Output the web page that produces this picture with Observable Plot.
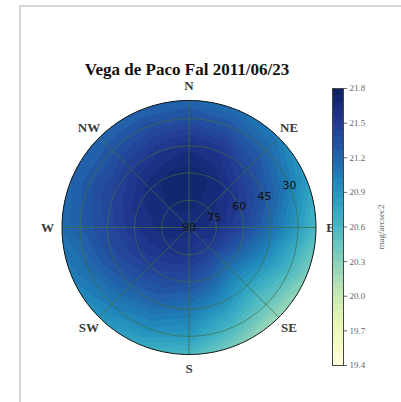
<!DOCTYPE html>
<html>
<head>
<meta charset="utf-8">
<script src="https://cdn.jsdelivr.net/npm/d3@7"></script>
<script src="https://cdn.jsdelivr.net/npm/@observablehq/plot@0.6"></script>
<style>
  html, body { margin: 0; padding: 0; background: #fff; }
  #chart { position: relative; width: 401px; height: 402px; overflow: hidden; }
  #edge { position: absolute; left: 19px; top: 5px; right: -10px; bottom: -10px;
          border-top: 2px solid #d6d6d6; border-left: 2px solid #d6d6d6; }
  #chart svg { position: absolute; left: 0; top: 0; background: transparent; }
</style>
</head>
<body>
<div id="chart"><div id="edge"></div></div>
<script>
// Sky brightness survey, Vega de Paco Fal, 2011/06/23 (mag/arcsec²)
const title = "Vega de Paco Fal 2011/06/23";

// Azimuths of the readings, clockwise from north
const azimuths = [0, 22.5, 45, 67.5, 90, 112.5, 135, 157.5,
                  180, 202.5, 225, 247.5, 270, 292.5, 315, 337.5];

// Compass labels and their azimuths
const directions = ["N", "NE", "E", "SE", "S", "SW", "W", "NW"];
const directionAz = [0, 45, 90, 135, 180, 225, 270, 315];

// Readings at each altitude, one value per azimuth above
const mag20 = [21.20, 21.15, 21.05, 20.85, 20.60, 20.35, 20.20, 20.35,
               20.60, 20.75, 20.90, 21.05, 21.15, 21.20, 21.20, 21.20];
const mag30 = [21.35, 21.30, 21.20, 21.05, 20.85, 20.60, 20.45, 20.60,
               20.85, 20.95, 21.05, 21.15, 21.25, 21.30, 21.30, 21.35];
const mag45 = [21.60, 21.55, 21.40, 21.30, 21.15, 20.95, 20.80, 20.95,
               21.10, 21.20, 21.25, 21.35, 21.40, 21.45, 21.50, 21.55];
const mag60 = [21.72, 21.68, 21.60, 21.50, 21.40, 21.25, 21.15, 21.25,
               21.35, 21.40, 21.45, 21.50, 21.55, 21.60, 21.66, 21.70];
const mag75 = [21.70, 21.68, 21.65, 21.62, 21.60, 21.55, 21.50, 21.50,
               21.55, 21.58, 21.60, 21.62, 21.65, 21.66, 21.68, 21.70];
const zenithMag = 21.65;

// Grid rings, ring labels, horizon limit and colour bar ticks
const ringAlts = [30, 45, 60, 75];
const ringLabels = [90, 75, 60, 45, 30];
const horizonAlt = 20;
const colorTicks = [19.4, 19.7, 20.0, 20.3, 20.6, 20.9, 21.2, 21.5, 21.8];
const magDomain = [19.4, 21.8];

// ---- derived tables -------------------------------------------------------
const byAltitude = [[20, mag20], [30, mag30], [45, mag45], [60, mag60], [75, mag75]];
const samples = byAltitude.flatMap(([alt, mags]) =>
  azimuths.map((az, i) => ({az, alt, mag: mags[i]})));
samples.push({az: 0, alt: 90, mag: zenithMag});

const rad = Math.PI / 180;
const zmax = 90 - horizonAlt;               // zenith distance of the rim
const px = d => (90 - d.alt) * Math.sin(d.az * rad);
const py = d => (90 - d.alt) * Math.cos(d.az * rad);

const step = 0.06;
const levels = d3.range(0, Math.round((magDomain[1] - magDomain[0]) / step) + 1)
  .map(i => +(magDomain[0] + i * step).toFixed(2));

const ringPts = alt => d3.range(0, 361, 2).map(az => ({alt, az}));
const gridPts = ringAlts.flatMap(ringPts);
const rimPts = ringPts(horizonAlt);

const labelAlt = horizonAlt - 8;            // compass labels sit just outside the rim
const ringLabelAz = 67.5;
const gridColor = "#3f6e47";

const color = {type: "linear", scheme: "YlGnBu", domain: magDomain};

// ---- polar sky map -------------------------------------------------------
const map = Plot.plot({
  width: 401, height: 402,
  marginLeft: 61.5, marginRight: 85.5, marginTop: 100, marginBottom: 48,
  x: {domain: [-zmax, zmax], axis: null},
  y: {domain: [-zmax, zmax], axis: null},
  color,
  style: {background: "transparent"},
  marks: [
    Plot.line(rimPts, {x: px, y: py, fill: "#2456a8", stroke: "none"}),
    Plot.contour(samples, {
      x: px, y: py, fill: "mag",
      x1: -zmax, x2: zmax, y1: -zmax, y2: zmax,
      interpolate: "barycentric", thresholds: levels
    }),
    Plot.line(gridPts, {x: px, y: py, z: "alt", stroke: gridColor, strokeWidth: 0.9, strokeOpacity: 0.8}),
    Plot.link(directionAz, {
      x1: 0, y1: 0,
      x2: az => zmax * Math.sin(az * rad), y2: az => zmax * Math.cos(az * rad),
      stroke: gridColor, strokeWidth: 0.9, strokeOpacity: 0.85
    }),
    Plot.line(rimPts, {x: px, y: py, stroke: "#1a1a1a", strokeWidth: 1}),
    Plot.text(ringLabels, {
      x: a => (90 - a) * Math.sin(ringLabelAz * rad),
      y: a => (90 - a) * Math.cos(ringLabelAz * rad),
      text: a => String(a),
      fontFamily: "DejaVu Sans", fontSize: 11, fill: "#111"
    }),
    Plot.text(directions, {
      x: (d, i) => (90 - labelAlt) * Math.sin(directionAz[i] * rad),
      y: (d, i) => (90 - labelAlt) * Math.cos(directionAz[i] * rad),
      text: d => d,
      fontFamily: "Liberation Serif", fontSize: 13, fontWeight: "bold", fill: "#3a3a3a"
    }),
    Plot.text([title], {
      frameAnchor: "top", lineAnchor: "middle", dy: -31, dx: -2, text: d => d,
      fontFamily: "Liberation Serif", fontSize: 17, fontWeight: "bold", fill: "#111"
    })
  ]
});

// keep the filled field inside the horizon circle
{
  const sx = map.scale("x"), sy = map.scale("y");
  const cx = sx.apply(0), cy = sy.apply(0), r = sx.apply(zmax) - cx;
  const svg = d3.select(map);
  svg.insert("defs", ":first-child").append("clipPath").attr("id", "sky-clip")
    .append("circle").attr("cx", cx).attr("cy", cy).attr("r", r);
  svg.selectAll('g[aria-label="contour"]').attr("clip-path", "url(#sky-clip)");
}

// ---- colour bar ------------------------------------------------------------
const bar = Plot.plot({
  width: 401, height: 402,
  marginLeft: 332, marginRight: 58, marginTop: 88, marginBottom: 37,
  x: {domain: [0, 1], axis: null},
  y: {domain: magDomain},
  color,
  style: {background: "transparent", fontFamily: "Liberation Serif", fontSize: "9px", color: "#666"},
  marks: [
    Plot.rect(levels.slice(0, -1), {
      x1: 0, x2: 1, y1: d => d, y2: d => d + step,
      fill: d => d, shapeRendering: "crispEdges"
    }),
    Plot.frame({stroke: "#444", strokeWidth: 1}),
    Plot.axisY(colorTicks, {
      anchor: "right", tickSize: 3, tickPadding: 3, tickFormat: ".1f",
      label: "mag/arcsec2", labelAnchor: "center", labelArrow: "none", labelOffset: 40,
      fontSize: 9
    })
  ]
});

const chart = document.getElementById("chart");
chart.append(map, bar);
</script>
</body>
</html>
